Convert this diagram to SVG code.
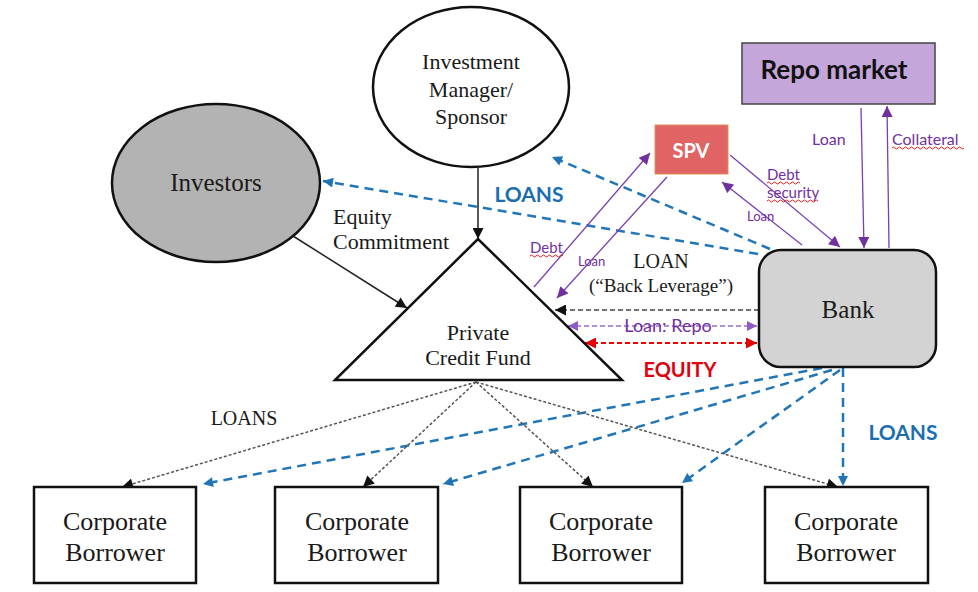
<svg xmlns="http://www.w3.org/2000/svg" width="978" height="592" viewBox="0 0 978 592">
<defs>
<style>
.serif{font-family:"Liberation Serif","DejaVu Serif",serif;fill:#1a1a1a}
.sans{font-family:Lato,"Liberation Sans",sans-serif}
.shape{stroke:#111;stroke-width:2.5}
.blue{stroke:#2176b8;stroke-width:2.5;stroke-dasharray:9 6;fill:none}
.purple{stroke:#7a3fb0;stroke-width:1.3;fill:none}
.dot{stroke:#555;stroke-width:1.5;stroke-dasharray:3 2;fill:none}
.black{stroke:#222;stroke-width:1.5;fill:none}
.squig{stroke:#e02020;stroke-width:1;fill:none}
.plab{fill:#7030a0}
</style>
<marker id="ab" viewBox="0 0 10 10" refX="10" refY="5" markerWidth="12" markerHeight="11" markerUnits="userSpaceOnUse" orient="auto-start-reverse"><path d="M0,0 L10,5 L0,10 Z" fill="#111"/></marker>
<marker id="ap" viewBox="0 0 10 10" refX="10" refY="5" markerWidth="13" markerHeight="11" markerUnits="userSpaceOnUse" orient="auto-start-reverse"><path d="M0,0 L10,5 L0,10 Z" fill="#7030a0"/></marker>
<marker id="apl" viewBox="0 0 10 10" refX="10" refY="5" markerWidth="12" markerHeight="10" markerUnits="userSpaceOnUse" orient="auto-start-reverse"><path d="M0,0 L10,5 L0,10 Z" fill="#8e5cc4"/></marker>
<marker id="abl" viewBox="0 0 10 10" refX="10" refY="5" markerWidth="12" markerHeight="10" markerUnits="userSpaceOnUse" orient="auto-start-reverse"><path d="M0,0 L10,5 L0,10 Z" fill="#1f74b6"/></marker>
<marker id="ar" viewBox="0 0 10 10" refX="10" refY="5" markerWidth="12" markerHeight="11" markerUnits="userSpaceOnUse" orient="auto-start-reverse"><path d="M0,0 L10,5 L0,10 Z" fill="#e80000"/></marker>
</defs>
<rect width="978" height="592" fill="#fff"/>

<g id="connectors">
<!-- blue loans from bank -->
<line class="blue" x1="758" y1="254" x2="323" y2="181" marker-end="url(#abl)"/>
<line class="blue" x1="770" y1="249" x2="552" y2="157" marker-end="url(#abl)"/>
<line class="blue" x1="822" y1="368" x2="203" y2="484" marker-end="url(#abl)"/>
<line class="blue" x1="832" y1="370" x2="443" y2="484" marker-end="url(#abl)"/>
<line class="blue" x1="840" y1="370" x2="682" y2="483" marker-end="url(#abl)"/>
<line class="blue" x1="843" y1="368" x2="843" y2="486" marker-end="url(#abl)"/>
<!-- fund to borrowers -->
<line class="dot" x1="476" y1="382" x2="122" y2="487" marker-end="url(#ab)"/>
<line class="dot" x1="476" y1="382" x2="363" y2="487" marker-end="url(#ab)"/>
<line class="dot" x1="476" y1="382" x2="593" y2="487" marker-end="url(#ab)"/>
<line class="dot" x1="476" y1="382" x2="838" y2="487" marker-end="url(#ab)"/>
<!-- black -->
<line class="black" x1="478" y1="168" x2="478" y2="239" marker-end="url(#ab)"/>
<line class="black" x1="293" y1="236" x2="407" y2="308" marker-end="url(#ab)"/>
<line x1="759" y1="310" x2="555" y2="310" stroke="#444" stroke-width="1.5" stroke-dasharray="5 3" marker-end="url(#ab)"/>
<!-- loan repo / equity -->
<line x1="568" y1="326" x2="757" y2="326" stroke="#9b6cc8" stroke-width="1.5" stroke-dasharray="5 3" marker-start="url(#apl)" marker-end="url(#apl)"/>
<line x1="585" y1="343" x2="757" y2="343" stroke="#e80000" stroke-width="2" stroke-dasharray="5 3" marker-start="url(#ar)" marker-end="url(#ar)"/>
<!-- purple SPV / repo -->
<line class="purple" x1="534" y1="287" x2="650" y2="153" marker-end="url(#ap)"/>
<line class="purple" x1="667" y1="177" x2="557" y2="298" marker-end="url(#ap)"/>
<line class="purple" x1="730" y1="155" x2="840" y2="247" marker-end="url(#ap)"/>
<line class="purple" x1="802" y1="245" x2="722" y2="182" marker-end="url(#ap)"/>
<line class="purple" x1="861" y1="108" x2="864" y2="248" marker-end="url(#ap)"/>
<line class="purple" x1="889" y1="248" x2="887" y2="106" marker-end="url(#ap)"/>
</g>

<g id="labels">
<text class="sans" x="529" y="202" font-size="21" font-weight="bold" fill="#1a6fb0" text-anchor="middle">LOANS</text>
<text class="sans" x="903" y="440" font-size="21" font-weight="bold" fill="#1a6fb0" text-anchor="middle">LOANS</text>
<text class="serif" x="244" y="425" font-size="20" text-anchor="middle">LOANS</text>
<text class="serif" x="333" y="224" font-size="22">Equity</text>
<text class="serif" x="333" y="249" font-size="22">Commitment</text>
<text class="serif" x="661" y="268" font-size="20" text-anchor="middle">LOAN</text>
<text class="serif" x="661" y="292" font-size="19" text-anchor="middle">(“Back Leverage”)</text>
<text class="sans plab" x="668" y="332" font-size="18" text-anchor="middle">Loan: Repo</text>
<text class="sans" x="680" y="377" font-size="20" font-weight="bold" fill="#e00010" text-anchor="middle">EQUITY</text>
<text class="sans plab" x="530" y="253" font-size="15">Debt</text>
<text class="sans plab" x="578" y="266" font-size="13">Loan</text>
<text class="sans plab" x="767" y="180" font-size="15">Debt</text>
<text class="sans plab" x="767" y="198" font-size="15">security</text>
<text class="sans plab" x="747" y="221" font-size="13">Loan</text>
<text class="sans plab" x="812" y="145" font-size="16">Loan</text>
<text class="sans plab" x="892" y="145" font-size="16">Collateral</text>
<path class="squig" d="M530,256 q1.5,-2 3,0 t3,0 t3,0 t3,0 t3,0 t3,0 t3,0 t3,0 t3,0 t3,0 t3,0"/>
<path class="squig" d="M767,183 q1.5,-2 3,0 t3,0 t3,0 t3,0 t3,0 t3,0 t3,0 t3,0 t3,0 t3,0 t3,0"/>
<path class="squig" d="M767,201 q1.5,-2 3,0 t3,0 t3,0 t3,0 t3,0 t3,0 t3,0 t3,0 t3,0 t3,0 t3,0 t3,0 t3,0 t3,0 t3,0 t3,0 t3,0"/>
<path class="squig" d="M892,148 q1.5,-2 3,0 t3,0 t3,0 t3,0 t3,0 t3,0 t3,0 t3,0 t3,0 t3,0 t3,0 t3,0 t3,0 t3,0 t3,0 t3,0 t3,0 t3,0 t3,0 t3,0 t3,0 t3,0 t3,0 t3,0"/>
</g>

<g id="investment-manager">
<ellipse class="shape" cx="471" cy="87" rx="98" ry="80" fill="#fff"/>
<text class="serif" x="471" y="69" font-size="22" text-anchor="middle">Investment</text>
<text class="serif" x="471" y="97" font-size="22" text-anchor="middle">Manager/</text>
<text class="serif" x="471" y="124" font-size="22" text-anchor="middle">Sponsor</text>
</g>

<g id="investors">
<ellipse class="shape" cx="216" cy="183" rx="104" ry="79" fill="#b3b3b3"/>
<text class="serif" x="216" y="191" font-size="25" text-anchor="middle">Investors</text>
</g>

<g id="fund">
<polygon class="shape" points="478,239 335,380 622,380" fill="#fff"/>
<text class="serif" x="478" y="340" font-size="22" text-anchor="middle">Private</text>
<text class="serif" x="478" y="365" font-size="22" text-anchor="middle">Credit Fund</text>
</g>

<g id="spv">
<rect x="655" y="125" width="73" height="49" fill="#e06464" stroke="#d9915a" stroke-width="1"/>
<text class="sans" x="691" y="158" font-size="20" font-weight="bold" fill="#fff" text-anchor="middle">SPV</text>
</g>

<g id="repo-market">
<rect x="742" y="43" width="193" height="61" fill="#c5a6da" stroke="#444" stroke-width="1.5"/>
<text class="sans" x="834" y="79" font-size="26" font-weight="bold" fill="#111" text-anchor="middle">Repo market</text>
</g>

<g id="bank">
<rect class="shape" x="759" y="250" width="177" height="117" rx="22" fill="#d3d3d3"/>
<text class="serif" x="848" y="318" font-size="25" text-anchor="middle">Bank</text>
</g>

<g id="borrower-1">
<rect class="shape" x="34" y="487" width="162" height="96" fill="#fff"/>
<text class="serif" x="115" y="530" font-size="26" text-anchor="middle">Corporate</text>
<text class="serif" x="115" y="561" font-size="26" text-anchor="middle">Borrower</text>
</g>
<g id="borrower-2">
<rect class="shape" x="275" y="487" width="163" height="96" fill="#fff"/>
<text class="serif" x="357" y="530" font-size="26" text-anchor="middle">Corporate</text>
<text class="serif" x="357" y="561" font-size="26" text-anchor="middle">Borrower</text>
</g>
<g id="borrower-3">
<rect class="shape" x="520" y="487" width="162" height="96" fill="#fff"/>
<text class="serif" x="601" y="530" font-size="26" text-anchor="middle">Corporate</text>
<text class="serif" x="601" y="561" font-size="26" text-anchor="middle">Borrower</text>
</g>
<g id="borrower-4">
<rect class="shape" x="765" y="487" width="163" height="96" fill="#fff"/>
<text class="serif" x="846" y="530" font-size="26" text-anchor="middle">Corporate</text>
<text class="serif" x="846" y="561" font-size="26" text-anchor="middle">Borrower</text>
</g>
</svg>
